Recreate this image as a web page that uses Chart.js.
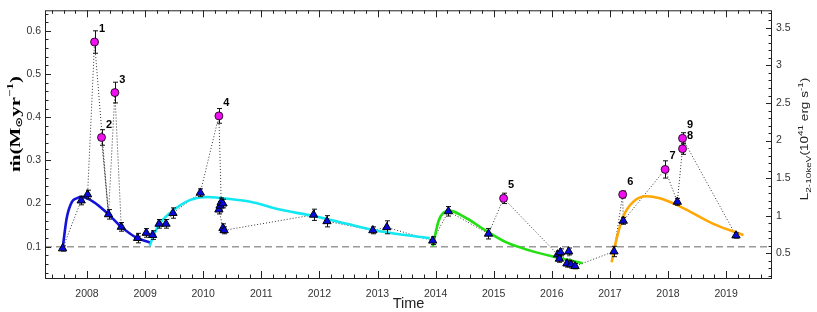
<!DOCTYPE html>
<html>
<head>
<meta charset="utf-8">
<script src="https://cdn.jsdelivr.net/npm/chart.js@4.4.0/dist/chart.umd.min.js"></script>
<style>
  body { margin: 0; background: #fff; }
  #wrap { width: 817px; height: 312px; position: relative; }
</style>
</head>
<body>
<div id="wrap"><canvas id="chart"></canvas></div>
<script>
// axis ranges and tick labels
const xMin = 2007.277, xMax = 2019.79;
const yMin = 0.0276, yMax = 0.6475;
const y2Min = 0.171, y2Max = 3.734;
const yearTicks = [2008, 2009, 2010, 2011, 2012, 2013, 2014, 2015, 2016, 2017, 2018, 2019];
const leftTicks = [0.1, 0.2, 0.3, 0.4, 0.5, 0.6];
const rightTicks = [0.5, 1, 1.5, 2, 2.5, 3, 3.5];

// quiescent points (blue triangles)
const triT = [2007.58, 2007.90, 2008.01, 2008.37, 2008.59, 2008.87, 2009.02, 2009.13, 2009.24, 2009.36, 2009.48,
  2009.95, 2010.27, 2010.29, 2010.31, 2010.34, 2010.34, 2010.36, 2011.90, 2012.13, 2012.92, 2013.16, 2013.95,
  2014.22, 2014.91, 2016.10, 2016.13, 2016.15, 2016.26, 2016.29, 2016.33, 2016.40, 2017.07, 2017.23, 2018.16, 2019.17];
const triV = [0.096, 0.207, 0.221, 0.175, 0.146, 0.120, 0.132, 0.127, 0.153, 0.153, 0.178,
  0.225, 0.186, 0.195, 0.203, 0.200, 0.143, 0.138, 0.174, 0.159, 0.138, 0.145, 0.114,
  0.182, 0.130, 0.082, 0.072, 0.087, 0.061, 0.089, 0.059, 0.055, 0.089, 0.160, 0.204, 0.126];
const triErr = [0.006, 0.01, 0.01, 0.011, 0.01, 0.011, 0.01, 0.01, 0.01, 0.01, 0.012,
  0.009, 0.01, 0.01, 0.01, 0.01, 0.01, 0.008, 0.013, 0.013, 0.008, 0.015, 0.009,
  0.011, 0.012, 0.008, 0.008, 0.008, 0.008, 0.008, 0.008, 0.006, 0.012, 0.008, 0.008, 0.006];

// flare points (magenta circles)
const burstT = [2008.13, 2008.25, 2008.48, 2010.27, 2015.17, 2017.22, 2017.95, 2018.25, 2018.25];
const burstV = [0.574, 0.353, 0.457, 0.403, 0.212, 0.221, 0.279, 0.327, 0.351];
const burstErr = [0.026, 0.018, 0.024, 0.017, 0.012, 0.008, 0.02, 0.013, 0.013];
const burstLabels = ['1', '2', '3', '4', '5', '6', '7', '8', '9'];

// dotted line joining the observations
const pathT = [2007.58, 2007.90, 2008.01, 2008.13, 2008.37, 2008.25, 2008.37, 2008.48, 2008.59, 2008.87, 2009.02,
  2009.13, 2009.24, 2009.36, 2009.48, 2009.95, 2010.27, 2010.31, 2010.29, 2010.27, 2010.34, 2010.36, 2011.90,
  2012.13, 2012.92, 2013.16, 2013.95, 2014.22, 2014.91, 2015.17, 2016.10, 2016.13, 2016.15, 2016.26, 2016.29,
  2016.33, 2016.40, 2017.07, 2017.22, 2017.23, 2017.95, 2018.16, 2018.25, 2018.25, 2019.17];
const pathV = [0.096, 0.207, 0.221, 0.574, 0.175, 0.353, 0.175, 0.457, 0.146, 0.120, 0.132,
  0.127, 0.153, 0.153, 0.178, 0.225, 0.403, 0.203, 0.195, 0.186, 0.143, 0.138, 0.174,
  0.159, 0.138, 0.145, 0.114, 0.182, 0.130, 0.212, 0.082, 0.072, 0.087, 0.061, 0.089,
  0.059, 0.055, 0.089, 0.221, 0.160, 0.279, 0.204, 0.327, 0.351, 0.126];

// model fits
const blueT = [2007.58, 2007.65, 2007.74, 2007.82, 2007.91, 2008.11, 2008.37, 2008.59, 2008.85, 2009.08];
const blueV = [0.095, 0.166, 0.204, 0.212, 0.215, 0.204, 0.175, 0.146, 0.121, 0.110];
const cyanT = [2009.08, 2009.14, 2009.26, 2009.49, 2009.77, 2010.06, 2010.29, 2010.81, 2011.32, 2011.90, 2012.47, 2013.04, 2013.90];
const cyanV = [0.102, 0.125, 0.155, 0.185, 0.208, 0.215, 0.213, 0.204, 0.186, 0.171, 0.153, 0.136, 0.120];
const greenT = [2013.95, 2014.05, 2014.13, 2014.25, 2014.48, 2014.88, 2015.22, 2015.63, 2016.03, 2016.53];
const greenV = [0.100, 0.159, 0.178, 0.183, 0.170, 0.136, 0.110, 0.091, 0.077, 0.062];
const orangeT = [2017.03, 2017.12, 2017.23, 2017.40, 2017.63, 2017.86, 2018.21, 2018.78, 2019.30];
const orangeV = [0.064, 0.121, 0.170, 0.204, 0.217, 0.212, 0.193, 0.153, 0.127];

const refLevel = 0.1;

function pts(xs, ys) {
  return xs.map((x, i) => ({x: x, y: ys[i]}));
}

function fit(color, xs, ys) {
  return {
    data: pts(xs, ys), showLine: true, borderColor: color, borderWidth: 2.6,
    pointRadius: 0, cubicInterpolationMode: 'monotone', order: 4
  };
}

// draws a list of text pieces (with sub/superscripts) rotated -90deg, centred on cx,cy
function drawRich(ctx, parts, cx, cy, squash) {
  ctx.save();
  let total = 0;
  parts.forEach(p => { ctx.font = p.font; p.w = ctx.measureText(p.t).width; total += p.w; });
  ctx.translate(cx, cy);
  ctx.rotate(-Math.PI / 2);
  ctx.scale(1, squash);
  ctx.textBaseline = 'middle';
  ctx.textAlign = 'left';
  let x = -total / 2;
  parts.forEach(p => {
    ctx.font = p.font;
    ctx.fillStyle = p.color;
    ctx.fillText(p.t, x, p.dy);
    x += p.w;
  });
  ctx.restore();
}

const errorBars = {
  id: 'errorBars',
  beforeDatasetDraw(chart, args) {
    if (args.index !== 6) return;
    const {ctx} = chart;
    const xs = chart.scales.x, ys = chart.scales.y;
    ctx.save();
    ctx.strokeStyle = '#111';
    ctx.lineWidth = 1;
    const draw = (ts, vs, es) => ts.forEach((t, i) => {
      const px = Math.round(xs.getPixelForValue(t)) + 0.5;
      const top = ys.getPixelForValue(vs[i] + es[i]);
      const bot = ys.getPixelForValue(vs[i] - es[i]);
      ctx.beginPath();
      ctx.moveTo(px, top); ctx.lineTo(px, bot);
      ctx.moveTo(px - 2.5, top); ctx.lineTo(px + 2.5, top);
      ctx.moveTo(px - 2.5, bot); ctx.lineTo(px + 2.5, bot);
      ctx.stroke();
    });
    draw(triT, triV, triErr);
    draw(burstT, burstV, burstErr);
    ctx.restore();
  },
  afterDatasetsDraw(chart) {
    const {ctx} = chart;
    const xs = chart.scales.x, ys = chart.scales.y;
    ctx.save();
    ctx.font = 'bold 11px "Liberation Sans", Arial, sans-serif';
    ctx.fillStyle = '#000';
    ctx.textAlign = 'center';
    ctx.textBaseline = 'middle';
    burstLabels.forEach((lab, i) => {
      ctx.fillText(lab, xs.getPixelForValue(burstT[i]) + 7.5, ys.getPixelForValue(burstV[i]) - 13);
    });
    ctx.restore();
  }
};

const frameTicks = {
  id: 'frameTicks',
  afterDraw(chart) {
    const {ctx, chartArea: a} = chart;
    const xs = chart.scales.x, ys = chart.scales.y, y2 = chart.scales.y1;
    ctx.save();
    ctx.strokeStyle = '#222';
    ctx.lineWidth = 1;
    ctx.strokeRect(a.left + 0.5, a.top + 0.5, a.right - a.left - 1, a.bottom - a.top);
    ctx.beginPath();
    // x: minor every 0.2 yr
    for (let i = Math.ceil(xMin * 5); i <= Math.floor(xMax * 5); i++) {
      const px = Math.round(xs.getPixelForValue(i / 5)) + 0.5;
      const len = i % 5 === 0 ? 7 : 3.5;
      ctx.moveTo(px, a.bottom); ctx.lineTo(px, a.bottom - len);
      ctx.moveTo(px, a.top); ctx.lineTo(px, a.top + len);
    }
    // left: minor every 0.02
    for (let i = Math.ceil(yMin * 50); i <= Math.floor(yMax * 50); i++) {
      const py = Math.round(ys.getPixelForValue(i / 50)) + 0.5;
      const len = i % 5 === 0 ? 6 : 3.5;
      ctx.moveTo(a.left, py); ctx.lineTo(a.left + len, py);
    }
    // right: minor every 0.1
    for (let i = Math.ceil(y2Min * 10); i <= Math.floor(y2Max * 10); i++) {
      const py = Math.round(y2.getPixelForValue(i / 10)) + 0.5;
      const len = i % 5 === 0 ? 6 : 3.5;
      ctx.moveTo(a.right, py); ctx.lineTo(a.right - len, py);
    }
    ctx.stroke();

    const serif = '"Liberation Serif", "DejaVu Serif", serif';
    drawRich(ctx, [
      {t: 'ṁ', font: 'bold 21px ' + serif, dy: 0, color: '#000'},
      {t: '(M', font: 'bold 21px ' + serif, dy: 0, color: '#000'},
      {t: '⊙', font: 'bold 13px "DejaVu Sans", sans-serif', dy: 5, color: '#000'},
      {t: 'yr', font: 'bold 21px ' + serif, dy: 0, color: '#000'},
      {t: '−1', font: 'bold 13px ' + serif, dy: -8, color: '#000'},
      {t: ')', font: 'bold 21px ' + serif, dy: 0, color: '#000'}
    ], 16, 124, 0.7);

    const sans = '"Liberation Sans", Arial, sans-serif';
    drawRich(ctx, [
      {t: 'L', font: '13.5px ' + sans, dy: 0, color: '#222'},
      {t: '2-10keV', font: '10px ' + sans, dy: 4.5, color: '#222'},
      {t: '(10', font: '13.5px ' + sans, dy: 0, color: '#222'},
      {t: '41', font: '10px ' + sans, dy: -5.5, color: '#222'},
      {t: ' erg s', font: '13.5px ' + sans, dy: 0, color: '#222'},
      {t: '-1', font: '10px ' + sans, dy: -5.5, color: '#222'},
      {t: ')', font: '13.5px ' + sans, dy: 0, color: '#222'}
    ], 805, 139, 0.8);
    ctx.restore();
  }
};

const tickFont = {family: '"Liberation Sans", Arial, sans-serif', size: 10.5};

const chart = new Chart(document.getElementById('chart'), {
  type: 'scatter',
  data: {
    datasets: [
      {data: [{x: xMin, y: refLevel}, {x: xMax, y: refLevel}], showLine: true, borderColor: '#999',
        borderWidth: 1.5, borderDash: [7, 4], pointRadius: 0, order: 6},
      {data: pts(pathT, pathV), showLine: true, borderColor: '#333', borderWidth: 1,
        borderDash: [1, 2], pointRadius: 0, order: 5},
      fit('#1212d8', blueT, blueV),
      fit('#12e8f2', cyanT, cyanV),
      fit('#22e011', greenT, greenV),
      fit('#ffa805', orangeT, orangeV),
      {data: pts(triT, triV), pointStyle: 'triangle', pointRadius: 4.8, backgroundColor: '#0808e0',
        borderColor: '#000', borderWidth: 1, order: 1},
      {data: pts(burstT, burstV), pointStyle: 'circle', pointRadius: 4, backgroundColor: '#ee10ee',
        borderColor: '#000', borderWidth: 0.8, order: 0}
    ]
  },
  options: {
    responsive: true,
    maintainAspectRatio: false,
    animation: false,
    layout: {padding: {top: 4, left: 0, right: 0, bottom: 0}},
    plugins: {legend: {display: false}, tooltip: {enabled: false}},
    scales: {
      x: {
        type: 'linear', min: xMin, max: xMax, position: 'bottom',
        grid: {display: false, drawTicks: false}, border: {display: false},
        afterBuildTicks: s => { s.ticks = yearTicks.map(v => ({value: v})); },
        afterFit: s => { s.height = 34; },
        ticks: {font: tickFont, color: '#333', padding: 10, maxRotation: 0, autoSkip: false,
          callback: v => String(v)},
        title: {display: true, text: 'Time', color: '#222',
          font: {family: '"Liberation Sans", Arial, sans-serif', size: 14.5, lineHeight: 1},
          padding: {top: 0, bottom: 1}}
      },
      y: {
        type: 'linear', min: yMin, max: yMax, position: 'left',
        grid: {display: false, drawTicks: false}, border: {display: false},
        afterBuildTicks: s => { s.ticks = leftTicks.map(v => ({value: v})); },
        afterFit: s => { s.width = 45; },
        ticks: {font: tickFont, color: '#333', padding: 4, callback: v => v.toFixed(1)}
      },
      y1: {
        type: 'linear', min: y2Min, max: y2Max, position: 'right',
        grid: {display: false, drawTicks: false}, border: {display: false},
        afterBuildTicks: s => { s.ticks = rightTicks.map(v => ({value: v})); },
        afterFit: s => { s.width = 45; },
        ticks: {font: tickFont, color: '#333', padding: 4, callback: v => String(v)}
      }
    }
  },
  plugins: [errorBars, frameTicks]
});
</script>
</body>
</html>
